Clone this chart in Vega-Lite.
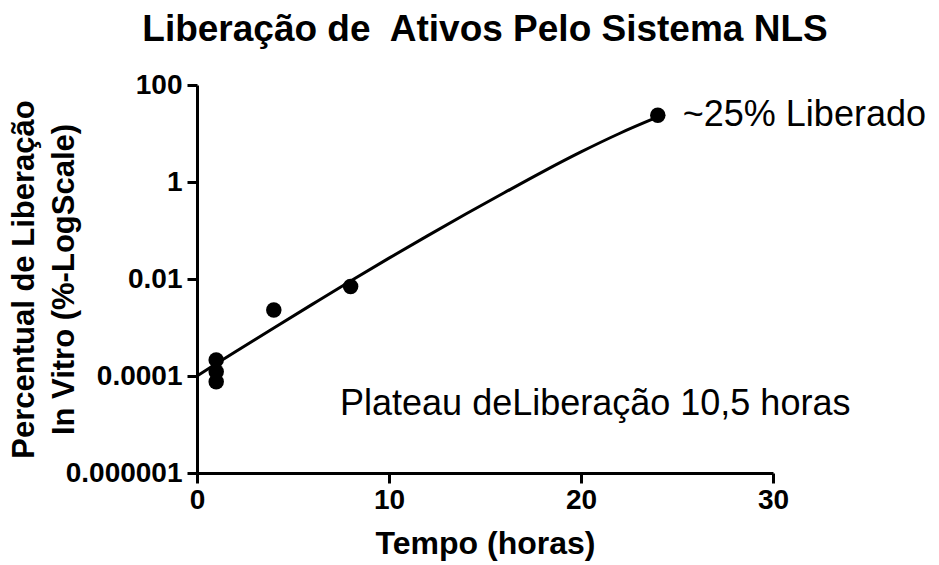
{
  "$schema": "https://vega.github.io/schema/vega-lite/v6.json",
  "width": 576,
  "height": 388,
  "autosize": {"type": "none"},
  "padding": {"left": 197, "top": 85, "right": 166, "bottom": 92},
  "background": "white",
  "config": {
    "font": "Liberation Sans",
    "view": {"stroke": null},
    "axis": {
      "grid": false,
      "domainColor": "black",
      "domainWidth": 3,
      "tickColor": "black",
      "tickWidth": 3,
      "tickSize": 10,
      "labelFont": "Liberation Sans",
      "labelFontSize": 28,
      "labelFontWeight": "bold",
      "labelColor": "black",
      "titleFont": "Liberation Sans",
      "titleFontWeight": "bold",
      "titleColor": "black"
    }
  },
  "title": {
    "text": "Liberação de\u00a0 Ativos Pelo Sistema NLS",
    "font": "Liberation Sans",
    "fontSize": 37,
    "fontWeight": "bold",
    "color": "black",
    "anchor": "middle",
    "offset": 22
  },
  "datasets": {
    "points": [
      {"tempo": 1, "pct": 0.000215},
      {"tempo": 1, "pct": 0.000123},
      {"tempo": 1, "pct": 0.000076},
      {"tempo": 4, "pct": 0.0023},
      {"tempo": 8, "pct": 0.0070},
      {"tempo": 24, "pct": 23.7}
    ],
    "curve": [
      {"tempo": 0, "pct": 0.0001},
      {"tempo": 1, "pct": 0.000178},
      {"tempo": 2, "pct": 0.000316},
      {"tempo": 4, "pct": 0.00098},
      {"tempo": 6, "pct": 0.0030},
      {"tempo": 8, "pct": 0.0091},
      {"tempo": 10, "pct": 0.0269},
      {"tempo": 12, "pct": 0.0776},
      {"tempo": 14, "pct": 0.219},
      {"tempo": 16, "pct": 0.60},
      {"tempo": 18, "pct": 1.62},
      {"tempo": 20, "pct": 4.17},
      {"tempo": 22, "pct": 10.0},
      {"tempo": 24, "pct": 21.9}
    ],
    "notes": [
      {"tempo": 25.3, "pct": 24, "label": "~25% Liberado"},
      {"tempo": 7.45, "pct": 0.0000265, "label": "Plateau deLiberação 10,5 horas"}
    ]
  },
  "layer": [
    {
      "data": {"name": "curve"},
      "mark": {"type": "line", "color": "black", "strokeWidth": 3, "clip": false, "interpolate": "monotone"},
      "encoding": {
        "x": {
          "field": "tempo",
          "type": "quantitative",
          "scale": {"domain": [0, 30], "nice": false, "zero": false},
          "axis": {
            "values": [0, 10, 20, 30],
            "title": "Tempo (horas)",
            "titleFontSize": 32,
            "titlePadding": 14,
            "labelPadding": 3,
            "labelFlush": false
          }
        },
        "y": {
          "field": "pct",
          "type": "quantitative",
          "scale": {"type": "log", "domain": [0.000001, 100], "nice": false},
          "axis": {
            "values": [0.000001, 0.0001, 0.01, 1, 100],
            "format": ".6~f",
            "title": ["Percentual de Liberação", "In Vitro (%-LogScale)"],
            "titleFontSize": 31,
            "titleLineHeight": 40,
            "titleX": -157,
            "titleY": 194,
            "labelPadding": 5,
            "labelFlush": false
          }
        }
      }
    },
    {
      "data": {"name": "points"},
      "mark": {"type": "point", "filled": true, "color": "black", "opacity": 1, "size": 240, "shape": "circle", "clip": false},
      "encoding": {
        "x": {"field": "tempo", "type": "quantitative"},
        "y": {"field": "pct", "type": "quantitative"}
      }
    },
    {
      "data": {"name": "notes"},
      "mark": {"type": "text", "align": "left", "baseline": "middle", "fontSize": 36, "color": "black", "font": "Liberation Sans", "clip": false},
      "encoding": {
        "x": {"field": "tempo", "type": "quantitative"},
        "y": {"field": "pct", "type": "quantitative"},
        "text": {"field": "label"}
      }
    }
  ]
}
